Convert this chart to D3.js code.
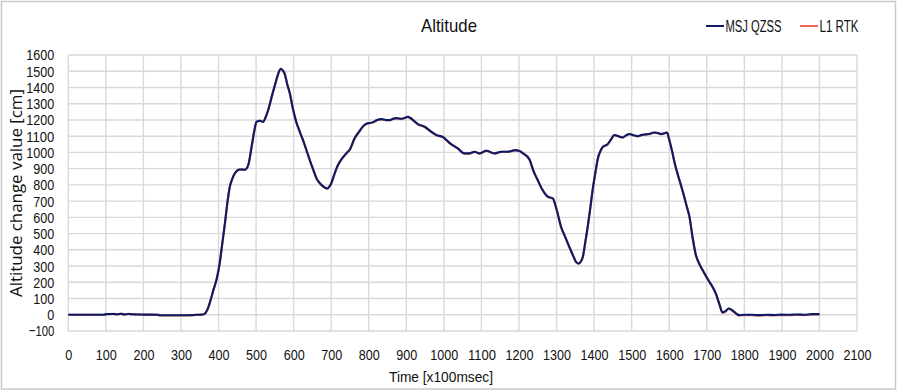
<!DOCTYPE html>
<html>
<head>
<meta charset="utf-8">
<script src="https://cdn.jsdelivr.net/npm/d3@7"></script>
<style>
  html, body { margin: 0; padding: 0; background: #fff; }
  svg { display: block; }
</style>
</head>
<body>
<svg id="chart" width="900" height="391"></svg>
<script>
const title = "Altitude";
const xTitle = "Time [x100msec]";
const yTitle = "Altitude change value [cm]";
const seriesNames = ["MSJ QZSS", "L1 RTK"];
const seriesColors = ["#0b1c66", "#f06a5c"];
const xTicks = [0,100,200,300,400,500,600,700,800,900,1000,1100,1200,1300,1400,1500,1600,1700,1800,1900,2000,2100];
const yTicks = [-100,0,100,200,300,400,500,600,700,800,900,1000,1100,1200,1300,1400,1500,1600];

const time = [0,50,95,100,120,130,140,150,160,170,180,200,240,242,280,320,330,340,355,362,370,380,386,395,403,410,417,423,430,437,443,450,457,470,479,488,495,501,510,519,525,532,545,552,559,566,571,576,583,590,598,607,616,625,634,643,652,661,670,678,684,690,695,700,709,718,728,740,750,762,775,785,795,811,822,834,845,856,865,873,887,897,904,911,918,931,949,965,980,997,1015,1037,1055,1068,1082,1095,1113,1135,1153,1170,1190,1200,1210,1228,1238,1250,1263,1277,1290,1300,1312,1323,1334,1345,1352,1359,1365,1370,1376,1383,1390,1396,1403,1410,1417,1423,1436,1445,1454,1465,1476,1485,1494,1505,1516,1527,1538,1549,1560,1570,1578,1587,1594,1600,1609,1615,1622,1631,1640,1647,1654,1662,1671,1680,1689,1698,1707,1716,1724,1733,1742,1750,1758,1766,1773,1780,1785,1800,1820,1840,1860,1880,1900,1920,1940,1960,1980,2000];

const msjQzss = [0,0,0,4,5,3,6,2,5,3,2,1,0,-3,-3,-3,-2,0,1,4,30,100,150,220,316,440,563,680,788,840,870,888,895,893,922,1034,1130,1188,1195,1188,1215,1260,1373,1430,1486,1515,1505,1486,1420,1363,1270,1188,1130,1076,1015,953,895,840,810,792,782,778,790,809,870,922,960,994,1020,1086,1130,1162,1178,1185,1200,1205,1200,1199,1208,1211,1207,1214,1219,1212,1199,1174,1158,1130,1107,1096,1059,1025,994,994,1004,994,1010,994,1004,1004,1014,1010,996,957,890,829,768,727,717,650,542,480,419,360,326,316,330,357,440,542,660,768,870,963,1010,1034,1051,1080,1107,1100,1092,1105,1113,1106,1100,1108,1111,1115,1123,1120,1113,1118,1123,1080,994,930,871,800,727,665,603,480,368,315,275,238,203,170,132,70,15,22,39,30,18,5,-2,0,0,-2,0,-1,1,0,2,0,4,4];

const l1Rtk = [0,0,0,3,6,2,5,3,6,2,2,0,-1,-4,-4,-4,-3,-1,0,3,28,97,148,218,313,437,560,678,786,838,869,889,896,894,920,1031,1128,1187,1196,1189,1213,1258,1370,1428,1484,1513,1504,1485,1418,1360,1268,1186,1128,1074,1013,951,893,838,808,790,781,777,789,807,868,920,958,992,1018,1084,1128,1160,1177,1184,1199,1204,1199,1198,1207,1210,1206,1213,1218,1211,1198,1172,1156,1128,1105,1094,1057,1023,992,993,1003,993,1009,993,1003,1003,1013,1009,995,955,888,827,766,725,715,648,540,478,417,358,324,314,328,355,437,540,658,766,868,961,1008,1032,1049,1078,1105,1099,1091,1104,1112,1105,1099,1107,1110,1114,1122,1119,1112,1117,1122,1078,992,928,869,798,725,663,601,478,366,313,273,236,201,168,130,68,13,20,37,28,16,3,-4,-2,-3,-5,-3,-4,-2,-3,0,-2,2,2];

const svg = d3.select("#chart");
const plot = { left: 68.3, right: 857, top: 55, bottom: 331 };
const font = "'Liberation Sans', Arial, sans-serif";
const digitW = 7;
const labelLen = s => s.replace("-", "").length * digitW + (s.includes("-") ? 4.5 : 0);

// outer border
svg.append("rect").attr("x", 1.5).attr("y", 1.5).attr("width", 894).attr("height", 387.5)
  .attr("fill", "#fff").attr("stroke", "#c9c9c9").attr("stroke-width", 1.5);

const x = d3.scaleLinear().domain([0, 2100]).range([plot.left, plot.right]);
const y = d3.scaleLinear().domain([-100, 1600]).range([plot.bottom, plot.top]);

// gridlines
const grid = svg.append("g").attr("stroke", "#d9d9d9").attr("stroke-width", 1.4);
xTicks.forEach(t => grid.append("line").attr("x1", x(t)).attr("x2", x(t)).attr("y1", plot.top).attr("y2", plot.bottom));
yTicks.forEach(t => grid.append("line").attr("x1", plot.left).attr("x2", plot.right).attr("y1", y(t)).attr("y2", y(t)));

// axes (labels only)
const xAxis = svg.append("g").attr("transform", `translate(0,${plot.bottom})`)
  .call(d3.axisBottom(x).tickValues(xTicks).tickSize(0).tickPadding(18).tickFormat(d3.format("d")));
xAxis.select(".domain").remove();
xAxis.selectAll("text").attr("font-family", font).attr("font-size", 15.5).attr("fill", "#111")
  .attr("textLength", d => labelLen(String(d))).attr("lengthAdjust", "spacingAndGlyphs");

const yAxis = svg.append("g").attr("transform", `translate(${plot.left},0)`)
  .call(d3.axisLeft(y).tickValues(yTicks).tickSize(0).tickPadding(14).tickFormat(d3.format("d")));
yAxis.select(".domain").remove();
yAxis.selectAll("text").attr("font-family", font).attr("font-size", 15.5).attr("fill", "#111")
  .attr("textLength", d => labelLen(String(d))).attr("lengthAdjust", "spacingAndGlyphs");

// lines
const line = d3.line().x((d, i) => x(time[i])).y(d => y(d)).curve(d3.curveMonotoneX);
svg.append("path").datum(l1Rtk).attr("d", line).attr("fill", "none")
  .attr("stroke", seriesColors[1]).attr("stroke-width", 2.2).attr("stroke-linejoin", "round");
svg.append("path").datum(msjQzss).attr("d", line).attr("fill", "none")
  .attr("stroke", seriesColors[0]).attr("stroke-width", 2.1).attr("stroke-linejoin", "round");

// title
svg.append("text").attr("x", 449).attr("y", 32).attr("text-anchor", "middle")
  .attr("font-family", font).attr("font-size", 19).attr("fill", "#111")
  .attr("textLength", 56).attr("lengthAdjust", "spacingAndGlyphs").text(title);

// axis titles
svg.append("text").attr("x", 441).attr("y", 382).attr("text-anchor", "middle")
  .attr("font-family", font).attr("font-size", 15.5).attr("fill", "#111")
  .attr("textLength", 104).attr("lengthAdjust", "spacingAndGlyphs").text(xTitle);
svg.append("text").attr("transform", `translate(22,${(plot.top + plot.bottom) / 2}) rotate(-90)`)
  .attr("text-anchor", "middle").attr("font-family", "'Open Sans', 'DejaVu Sans', sans-serif")
  .attr("font-size", 15.5).attr("fill", "#111")
  .attr("textLength", 208).attr("lengthAdjust", "spacingAndGlyphs").text(yTitle);

// legend
const legendItems = [
  { name: seriesNames[0], color: seriesColors[0], x0: 706, x1: 724, len: 56 },
  { name: seriesNames[1], color: seriesColors[1], x0: 800, x1: 818, len: 39 }
];
legendItems.forEach(it => {
  svg.append("line").attr("x1", it.x0).attr("x2", it.x1).attr("y1", 26).attr("y2", 26)
    .attr("stroke", it.color).attr("stroke-width", 2);
  svg.append("text").attr("x", it.x1 + 1.5).attr("y", 32).attr("font-family", font)
    .attr("font-size", 16).attr("fill", "#111")
    .attr("textLength", it.len).attr("lengthAdjust", "spacingAndGlyphs").text(it.name);
});
</script>
</body>
</html>
